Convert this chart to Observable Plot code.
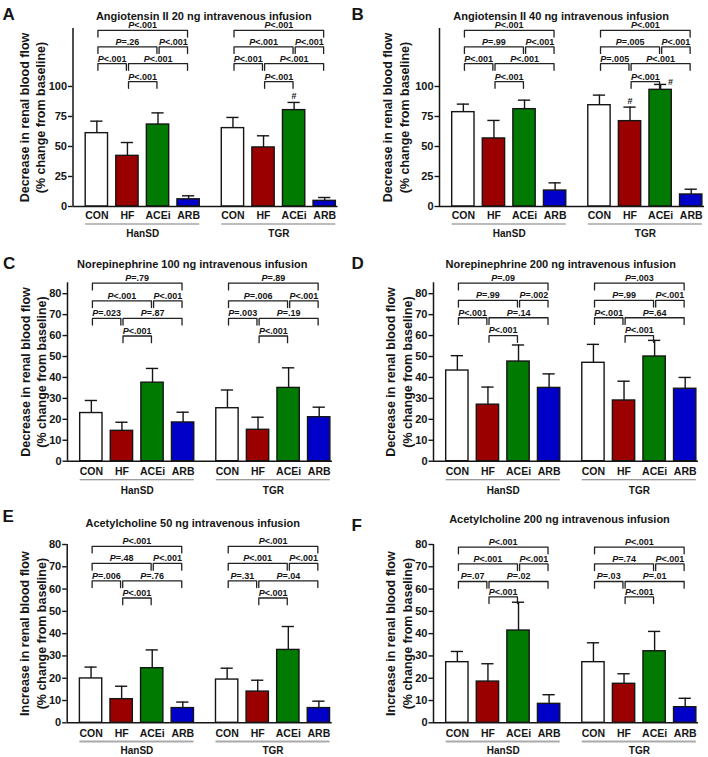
<!DOCTYPE html>
<html><head><meta charset="utf-8">
<script src="https://cdn.jsdelivr.net/npm/d3@7"></script>
<script src="https://cdn.jsdelivr.net/npm/@observablehq/plot@0.6"></script>
<style>
html,body{margin:0;padding:0;background:#fff;}
#root{position:relative;width:708px;height:757px;overflow:hidden;font-family:"Liberation Sans",Arial,sans-serif;}
.panel{position:absolute;width:354px;}
.panel svg{overflow:visible;display:block;}
</style></head><body><div id="root"></div>
<script>
// ---------------- DATA ----------------
const categories = ["CON", "HF", "ACEi", "ARB"];
const groups = ["HanSD", "TGR"];
const panelLetters = ["A", "B", "C", "D", "E", "F"];
const panelTitles = [
  "Angiotensin II 20 ng intravenous infusion",
  "Angiotensin II 40 ng intravenous infusion",
  "Norepinephrine 100 ng intravenous infusion",
  "Norepinephrine 200 ng intravenous infusion",
  "Acetylcholine 50 ng intravenous infusion",
  "Acetylcholine 200 ng intravenous infusion"
];
const labelDecrease = ["Decrease in renal blood flow", "(% change from baseline)"];
const labelIncrease = ["Increase in renal blood flow", "(% change from baseline)"];
const ticksAngII = [0, 25, 50, 75, 100];
const ticksOther = [0, 10, 20, 30, 40, 50, 60, 70, 80];

// means and SEM, order: HanSD CON,HF,ACEi,ARB then TGR CON,HF,ACEi,ARB
const meanA = [61.1, 42.2, 68.3, 6.0, 65.3, 49.2, 80.3, 4.7];
const semA  = [10.0, 11.1, 9.7, 2.9, 8.9, 9.7, 6.4, 2.8];
const meanB = [78.6, 56.7, 81.1, 13.3, 84.4, 71.1, 97.2, 10.0];
const semB  = [6.7, 15.0, 7.5, 6.4, 8.4, 11.7, 4.5, 4.4];
const meanC = [23.0, 14.5, 37.5, 18.5, 25.3, 15.0, 35.0, 21.0];
const semC  = [6.0, 4.1, 6.8, 4.9, 8.7, 6.0, 9.6, 4.8];
const meanD = [43.3, 27.0, 47.6, 35.0, 47.0, 29.0, 50.0, 34.6];
const semD  = [7.1, 8.4, 7.9, 6.7, 8.8, 9.2, 7.7, 5.4];
const meanE = [19.9, 10.6, 24.5, 6.6, 19.4, 14.0, 32.7, 6.6];
const semE  = [5.1, 5.8, 8.2, 2.7, 5.1, 5.1, 10.5, 3.1];
const meanF = [27.2, 18.5, 41.4, 8.5, 27.2, 17.5, 32.1, 7.0];
const semF  = [4.8, 8.0, 12.7, 4.1, 8.7, 4.5, 8.9, 4.0];

// pairwise comparisons (same order within every group)
const comparisons = [["HF", "ACEi"], ["CON", "HF"], ["HF", "ARB"], ["CON", "ACEi"], ["ACEi", "ARB"], ["CON", "ARB"]];
const comparisonTier = [0, 1, 1, 2, 2, 3];
const pA = [["P<.001", "P<.001", "P<.001", "P=.26", "P<.001", "P<.001"],
            ["P<.001", "P<.001", "P<.001", "P<.001", "P<.001", "P<.001"]];
const pB = [["P<.001", "P<.001", "P<.001", "P=.99", "P<.001", "P<.001"],
            ["P<.001", "P=.005", "P<.001", "P=.005", "P<.001", "P<.001"]];
const pC = [["P<.001", "P=.023", "P=.87", "P<.001", "P<.001", "P=.79"],
            ["P<.001", "P=.003", "P=.19", "P=.006", "P<.001", "P=.89"]];
const pD = [["P<.001", "P<.001", "P=.14", "P=.99", "P=.002", "P=.09"],
            ["P<.001", "P<.001", "P=.64", "P=.99", "P<.001", "P=.003"]];
const pE = [["P<.001", "P=.006", "P=.76", "P=.48", "P<.001", "P<.001"],
            ["P<.001", "P=.31", "P=.04", "P<.001", "P<.001", "P<.001"]];
const pF = [["P<.001", "P=.07", "P=.02", "P<.001", "P<.001", "P<.001"],
            ["P<.001", "P=.03", "P=.01", "P=.74", "P<.001", "P<.001"]];

// "#" markers
const hashA = [{group: "TGR", cat: "ACEi", side: "top"}];
const hashB = [{group: "TGR", cat: "HF", side: "top"}, {group: "TGR", cat: "ACEi", side: "right"}];

// ---------------- STYLE / LAYOUT ----------------
const barFill = {CON: "#ffffff", HF: "#9b0000", ACEi: "#007a00", ARB: "#0000c8"};
const INK = "#151515";
const GROUP_STEP = 4.45, BAR_HALF = 0.365, CAP_HALF = 0.2, END_INSET = 0.035;
const X_DOMAIN = [-0.78, 7.885];

const panels = [
  {mean: meanA, sem: semA, p: pA, hashes: hashA, ticks: ticksAngII, yLabel: labelDecrease},
  {mean: meanB, sem: semB, p: pB, hashes: hashB, ticks: ticksAngII, yLabel: labelDecrease},
  {mean: meanC, sem: semC, p: pC, hashes: [], ticks: ticksOther, yLabel: labelDecrease},
  {mean: meanD, sem: semD, p: pD, hashes: [], ticks: ticksOther, yLabel: labelDecrease},
  {mean: meanE, sem: semE, p: pE, hashes: [], ticks: ticksOther, yLabel: labelIncrease},
  {mean: meanF, sem: semF, p: pF, hashes: [], ticks: ticksOther, yLabel: labelIncrease}
];

const layout = [
  {left: 0, top: 0, height: 250, ml: 72.5, mr: 16.5, mt: 28, mb: 44, ymax: 148.3, levels: [104, 119, 133, 146.7], drop: 5.5, below: [9, 17.5, 27], labelLines: [-48.5, -32], letterPos: [2, 19.3], titlePos: [203.3, 19], under: ["#7a7a7a", 1.1]},
  {left: 354, top: 0, height: 250, ml: 85, mr: 4, mt: 28, mb: 44, ymax: 148.3, levels: [104, 119, 133, 146.7], drop: 5.5, below: [9, 17.5, 27], labelLines: [-51.7, -35], letterPos: [351, 19.3], titlePos: [560.7, 19], under: ["#7a7a7a", 1.1]},
  {left: 0, top: 250, height: 250, ml: 67, mr: 22, mt: 32.3, mb: 39.3, ymax: 85.2, levels: [59.8, 68.2, 76.6, 85], drop: 3.2, below: [10, 18.6, 29.3], labelLines: [-42, -25.7], letterPos: [2.5, 268.3], titlePos: [191.7, 267.3], under: ["#7a7a7a", 1.1]},
  {left: 354, top: 250, height: 250, ml: 79, mr: 10, mt: 32.3, mb: 39.3, ymax: 85.2, levels: [60, 68.5, 76.8, 85], drop: 3.2, below: [10, 18.6, 29.3], labelLines: [-42.3, -25.7], letterPos: [351, 268.3], titlePos: [560.2, 267.3], under: ["#7a7a7a", 1.1]},
  {left: 0, top: 505, height: 252, ml: 66.7, mr: 22.3, mt: 39, mb: 34.7, ymax: 80, levels: [56, 63.7, 71.5, 79.2], drop: 3, below: [10.4, 18.7, 27.7], labelLines: [-41.7, -25], letterPos: [2, 521.7], titlePos: [192.2, 526], under: ["#aaaaaa", 2]},
  {left: 354, top: 505, height: 252, ml: 79, mr: 10, mt: 39, mb: 34.7, ymax: 80, levels: [56.5, 63.4, 71.3, 78.8], drop: 3, below: [10.4, 18.7, 27.7], labelLines: [-42.3, -25.7], letterPos: [351, 530], titlePos: [559, 522.5], under: ["#aaaaaa", 2]}
];

const posOf = (g, cat) => groups.indexOf(g) * GROUP_STEP + categories.indexOf(cat);

function drawPanel(k) {
  const P = panels[k], L = layout[k];
  const bars = [];
  groups.forEach((g, gi) => categories.forEach((c, ci) => {
    const v = P.mean[gi * 4 + ci], s = P.sem[gi * 4 + ci];
    bars.push({group: g, cat: c, pos: posOf(g, c), mean: v, top: v + s});
  }));
  const groupRows = groups.map(g => ({name: g, x1: posOf(g, "CON") - BAR_HALF, x2: posOf(g, "ARB") + BAR_HALF, mid: (posOf(g, "CON") + posOf(g, "ARB")) / 2}));
  const brackets = [], bracketPts = [];
  groups.forEach((g, gi) => comparisons.forEach(([a, b], ci) => {
    const xa = posOf(g, a) + END_INSET, xb = posOf(g, b) - END_INSET;
    const lev = L.levels[comparisonTier[ci]], id = g + ci;
    brackets.push({id, mid: (posOf(g, a) + posOf(g, b)) / 2, y: lev, text: P.p[gi][ci]});
    bracketPts.push({id, x: xa, y: lev - L.drop}, {id, x: xa, y: lev}, {id, x: xb, y: lev}, {id, x: xb, y: lev - L.drop});
  }));
  const hashRows = P.hashes.map(h => {
    const b = bars.find(d => d.group === h.group && d.cat === h.cat);
    return {x: b.pos, y: b.top, side: h.side};
  });
  const frameDx = x => x - L.left - L.ml;
  const frameDy = y => y - L.top - L.mt;

  const marks = [];
  // error bars
  marks.push(Plot.ruleX(bars, {x: "pos", y1: "mean", y2: "top", stroke: INK, strokeWidth: 1.4}));
  marks.push(Plot.ruleY(bars, {y: "top", x1: d => d.pos - CAP_HALF, x2: d => d.pos + CAP_HALF, stroke: INK, strokeWidth: 1.4}));
  // bars
  for (const c of categories) {
    marks.push(Plot.rectY(bars.filter(d => d.cat === c), {x1: d => d.pos - BAR_HALF, x2: d => d.pos + BAR_HALF, y1: 0, y2: "mean", fill: barFill[c], stroke: INK, strokeWidth: 1.4}));
  }
  // axes
  marks.push(Plot.ruleY([0], {stroke: INK, strokeWidth: 1.5}));
  marks.push(Plot.ruleX([X_DOMAIN[0]], {y1: 0, y2: L.ymax, stroke: INK, strokeWidth: 1.5}));
  marks.push(Plot.axisY({ticks: P.ticks, tickSize: 4.5, tickPadding: 1.5, fontSize: 11, fontWeight: "bold", label: null, stroke: INK, strokeWidth: 1.4}));
  // y label (two lines, rotated)
  P.yLabel.forEach((line, li) => {
    marks.push(Plot.text([line], {text: d => d, frameAnchor: "left", rotate: -90, dx: L.labelLines[li], textAnchor: "middle", lineAnchor: "middle", fontSize: 12.5, fontWeight: "bold"}));
  });
  // category + group labels
  marks.push(Plot.text(bars, {x: "pos", y: 0, text: "cat", dy: L.below[0], lineAnchor: "middle", fontSize: 10.5, fontWeight: "bold"}));
  marks.push(Plot.ruleY(groupRows, {y: 0, x1: "x1", x2: "x2", dy: L.below[1], stroke: L.under[0], strokeWidth: L.under[1]}));
  marks.push(Plot.text(groupRows, {x: "mid", y: 0, text: "name", dy: L.below[2], lineAnchor: "middle", fontSize: 10, fontWeight: "bold"}));
  // brackets
  marks.push(Plot.line(bracketPts, {x: "x", y: "y", z: "id", stroke: "#222", strokeWidth: 1.3}));
  marks.push(Plot.text(brackets, {x: "mid", y: "y", text: "text", dy: -5, lineAnchor: "middle", fontSize: 9, fontWeight: "bold"}));
  // # markers
  marks.push(Plot.text(hashRows.filter(d => d.side === "top"), {x: "x", y: "y", text: () => "#", dy: -3, lineAnchor: "bottom", fontSize: 9, fontWeight: "bold"}));
  marks.push(Plot.text(hashRows.filter(d => d.side === "right"), {x: "x", y: "y", text: () => "#", dx: 10, dy: 0.5, lineAnchor: "bottom", fontSize: 9, fontWeight: "bold"}));
  // letter and title
  marks.push(Plot.text([panelLetters[k]], {text: d => d, frameAnchor: "top-left", dx: frameDx(L.letterPos[0]), dy: frameDy(L.letterPos[1]), textAnchor: "start", lineAnchor: "bottom", fontSize: 17, fontWeight: "bold"}));
  marks.push(Plot.text([panelTitles[k]], {text: d => d, frameAnchor: "top-left", dx: frameDx(L.titlePos[0]), dy: frameDy(L.titlePos[1]), textAnchor: "middle", lineAnchor: "bottom", fontSize: 11, fontWeight: "bold"}));

  const svg = Plot.plot({
    width: 354, height: L.height,
    marginLeft: L.ml, marginRight: L.mr, marginTop: L.mt, marginBottom: L.mb,
    x: {type: "linear", domain: X_DOMAIN, axis: null},
    y: {type: "linear", domain: [0, L.ymax], label: null},
    style: {fontFamily: "'Liberation Sans', Arial, sans-serif", fontWeight: "bold", color: INK, background: "transparent", overflow: "visible"},
    marks
  });
  // italic P in significance labels
  const ns = "http://www.w3.org/2000/svg";
  svg.querySelectorAll("text").forEach(t => {
    const s = t.textContent;
    if (/^P[<=]/.test(s) && t.children.length === 0) {
      t.textContent = "";
      const a = document.createElementNS(ns, "tspan");
      a.setAttribute("font-style", "italic");
      a.textContent = "P";
      const b = document.createElementNS(ns, "tspan");
      b.textContent = s.slice(1);
      t.append(a, b);
    }
  });
  const div = document.createElement("div");
  div.className = "panel";
  div.style.left = L.left + "px";
  div.style.top = L.top + "px";
  div.style.height = L.height + "px";
  div.appendChild(svg);
  document.getElementById("root").appendChild(div);
}

panels.forEach((_, k) => drawPanel(k));
</script>
</body></html>
